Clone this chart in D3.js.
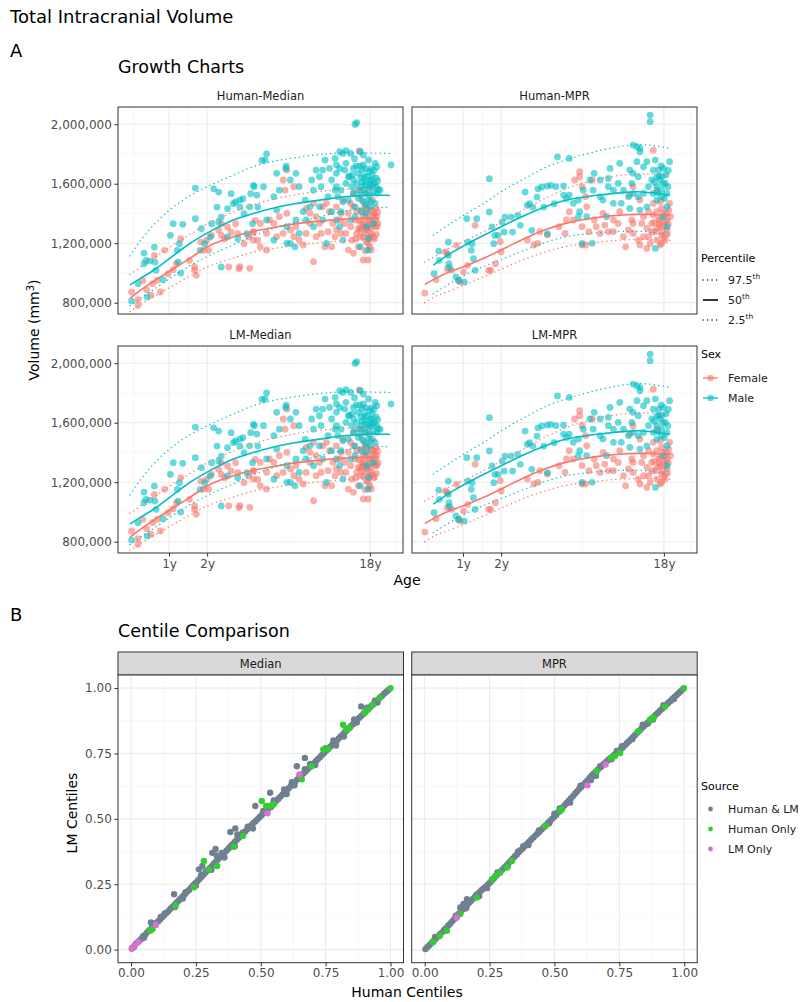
<!DOCTYPE html>
<html><head><meta charset="utf-8">
<script src="https://cdn.jsdelivr.net/npm/d3@7"></script>
<style>body{margin:0;background:#fff;} text{font-family:"DejaVu Sans",sans-serif;}</style>
</head><body><script>
// ---------- DATA ----------
// Panel A: age in years (postnatal), volume in thousands of mm^3
const sexes = ["Female", "Male"];
const percentiles = ["97.5th", "50th", "2.5th"];
const yTicksA = [800, 1200, 1600, 2000];
const xTickAges = [1, 2, 18];
const xTickLabels = ["1y", "2y", "18y"];

const medianFemale = [[0.37,872],[0.46,820],[0.46,782],[0.53,950],[0.59,888],[0.66,850],[0.69,928],[0.77,950],[0.83,872],[0.72,1118],[0.91,1152],[0.98,995],[1.09,1022],[1.16,1062],[1.26,1230],[1.48,1085],[1.62,1018],[1.67,984],[1.62,1040],[1.8,1208],[1.88,1152],[1.98,1219],[2.05,1152],[2.15,1253],[2.4,1287],[2.5,1253],[2.63,1230],[2.8,1040],[3.25,1029],[2.9,1275],[3.2,1264],[3.5,1197],[3.75,1242],[4.0,1275],[4.1,1354],[4.25,1219],[2.75,1309],[3.1,1331],[2.5,1331],
[5.0,1356],[5.3,1333],[5.7,1378],[6.3,1401],[6.15,1557],[6.0,1625],[6.3,1692],[6.9,1580],[4.8,1154],[5.5,1244],[6.0,1266],[6.6,1289],[6.9,1244],[7.1,1311],[7.4,1221],[7.8,1188],[8.1,1266],[8.1,1434],[8.5,1401],[8.9,1468],[9.2,1378],[9.6,1333],[8.9,1076],[9.8,1266],[10.3,1176],[10.9,1412],[11.4,1333],[11.9,1289],[11.2,1176],[12.6,1401],[12.9,1490],[13.2,1333],[13.4,1266],[14.2,1311],[14.4,1221],[14.7,1445],[15.0,1356],[15.3,1266],[15.6,1176],[15.8,1820],[16.0,1423],[16.3,1333],[16.6,1244],[16.6,1087],[17.0,1378],[17.3,1289],[17.6,1199],[18.0,1356],[18.3,1266],[18.8,1412],[19.2,1311],[19.6,1378],[19.4,1434],[17.3,1535],[16.0,1557],[14.7,1535],[13.8,1401],[12.4,1356],[11.9,1445],[10.5,1468],[10.0,1445],[13.8,1154],[14.7,1132],[16.0,1244],[17.6,1356],[17.0,1445],[18.6,1490],[15.3,1412],[14.2,1468],[12.6,1266],[11.7,1244],[10.7,1277],[9.2,1244],[8.5,1333],[4.8,1266],[4.4,1333],[4.0,1277],[4.4,1176],[3.3,1042],[3.8,1031],[4.0,1221],[18.0,1176],[17.3,1412],[16.3,1490],[18.8,1244],[18.3,1154],[16.6,1311],[15.6,1300],[19.6,1311],[17.6,1087],[17.8,1320],[18.5,1380],[16.9,1270],[19.0,1230],[18.2,1300],[17.4,1440],[16.5,1380],[19.3,1350],
[16.8,1330],[17.5,1300],[18.1,1250],[18.6,1330],[19.0,1390],[17.2,1210],[16.2,1300],[15.8,1350],[19.5,1260],[18.4,1420],[17.9,1230],[16.0,1290],[19.9,1330],[19.8,1410],[17.0,1150],[15.1,1230]];

const medianMale = [[0.37,811],[0.55,1134],[0.58,1085],[0.55,1062],[0.64,1080],[0.72,1174],[0.73,1073],[0.75,1018],[0.46,928],[0.60,838],[0.88,955],[1.03,1253],[1.09,1331],[1.31,1327],[1.23,1197],[1.18,1152],[1.2,1073],[1.26,999],[1.64,1571],[1.64,1365],[1.82,1298],[1.78,1152],[1.92,1197],[2.1,1242],[2.22,1566],[2.4,1544],[2.34,1443],[2.15,1331],[2.4,1342],[2.5,1376],[2.5,1040],[2.75,1432],[2.9,1533],[3.0,1466],[3.1,1477],[3.3,1443],[3.45,1499],[3.5,1398],[3.85,1533],[4.0,1589],[3.95,1331],[4.25,1443],[3.65,1264],[3.2,1230],[2.75,1242],[4.5,1757],
[4.8,1800],[4.7,1759],[5.5,1670],[6.2,1703],[6.25,1719],[6.6,1625],[7.1,1670],[7.4,1580],[5.3,1513],[5.7,1557],[4.6,1580],[4.05,1580],[4.2,1524],[3.8,1445],[3.3,1490],[4.8,1356],[5.3,1221],[6.3,1311],[6.6,1199],[7.0,1176],[5.5,1423],[7.8,1412],[8.1,1356],[8.5,1445],[8.9,1557],[8.7,1625],[9.2,1692],[9.6,1647],[9.8,1580],[10.7,1513],[11.2,1625],[11.9,1670],[11.2,1412],[11.9,1356],[10.3,1759],[11.7,1770],[12.4,1815],[13.4,1822],[12.9,1804],[14.2,1804],[15.0,1999],[15.3,2010],[16.6,1793],[16.0,1815],[19.2,1737],[23.3,1726],[12.4,1703],[13.2,1692],[13.8,1647],[14.7,1703],[15.6,1670],[16.3,1692],[17.3,1647],[17.8,1681],[18.3,1625],[17.3,1591],[16.3,1580],[15.3,1602],[14.4,1580],[13.4,1602],[12.6,1557],[11.9,1580],[14.7,1535],[16.0,1524],[17.0,1535],[18.0,1524],[18.8,1546],[19.6,1535],[17.6,1490],[16.6,1479],[15.6,1501],[13.8,1490],[12.9,1479],[12.1,1513],[18.0,1445],[17.3,1401],[16.3,1412],[15.0,1378],[14.2,1356],[18.8,1333],[17.3,1311],[17.6,1233],[17.6,1154],[16.0,1176],[12.9,1221],[10.5,1199],[12.4,1311],[9.6,1445],[10.0,1356],[8.9,1311],[7.1,1356],[7.4,1266],[6.3,1199],[8.0,1490],[14.7,1625],[19.2,1468],[16.6,1726],[15.9,1719],[10.0,1692],[10.9,1703],[11.9,1726],[13.4,1737],[14.9,1768],[11.7,1557],[12.6,1412],[15.0,1445],[18.0,1580],[17.0,1610],[18.5,1660],[19.0,1600],[17.8,1570],[16.8,1650],[18.3,1700],[19.5,1580],[20.0,1560],[19.6,1714],
[14.0,1650],[15.5,1560],[16.1,1640],[17.1,1700],[18.1,1620],[18.9,1690],[19.4,1640],[16.7,1560],[15.2,1720],[14.5,1660],[17.7,1760],[18.6,1590],[16.4,1610],[19.8,1620],[20.4,1557],[18.2,1480],[17.0,1460]];

const mprFemale = [[0.36,865],[0.52,955],[0.67,1141],[0.7,1130],[0.7,1029],[0.78,1018],[0.91,950],[0.94,939],[0.87,1186],[1.01,1006],[1.1,1051],[1.27,1320],[1.62,1018],[1.68,1018],[2.0,1141],[1.82,1062],
[1.97,1210],[3.0,1221],[3.3,1188],[3.5,1199],[3.6,1277],[4.0,1255],[4.7,1311],[5.1,1266],[5.2,1356],[5.4,1412],[5.7,1356],[5.8,1625],[6.2,1681],[6.2,1647],[6.4,1580],[6.7,1513],[6.8,1445],[6.4,1311],[6.4,1188],[6.7,1188],[7.0,1277],[7.3,1625],[7.5,1356],[7.7,1311],[8.1,1266],[8.4,1401],[8.6,1322],[9.0,1277],[9.6,1356],[10.2,1333],[10.4,1412],[11.2,1176],[11.6,1289],[12.1,1356],[12.3,1266],[13.1,1221],[13.4,1188],[13.7,1333],[14.0,1378],[14.6,1300],[14.9,1244],[15.2,1199],[15.5,1333],[15.8,1389],[16.2,1277],[16.5,1221],[16.9,1356],[17.2,1311],[17.5,1255],[17.9,1401],[18.3,1345],[18.7,1289],[19.1,1423],[19.3,1468],[19.5,1378],[15.8,1826],[16.5,1557],[17.2,1479],[15.8,1468],[14.9,1412],[13.4,1490],[12.3,1580],[11.8,1524],[9.6,1277],[10.9,1244],[18.3,1221],[17.2,1188],[14.6,1165],[14.0,1244],[12.3,1333],[18.7,1356],[17.5,1434],[16.5,1412],[15.5,1277],[17.9,1322],
[17.0,1330],[17.7,1280],[18.5,1400],[16.6,1300],[18.0,1240],[17.3,1370],[19.0,1330],[18.8,1260],[16.0,1340],[17.5,1200]];

const mprMale = [[0.49,995],[0.56,1147],[0.57,1085],[0.72,1208],[0.72,1118],[0.73,1062],[0.74,1035],[0.86,973],[0.91,950],[1.03,939],[1.1,1208],[1.2,1197],[1.18,1152],[1.23,1096],[1.27,1018],[1.08,1365],[1.31,1365],[1.64,1634],[1.64,1410],[1.72,1309],[1.77,1197],[1.8,1253],[1.9,1253],[2.03,1342],[2.1,1275],[2.13,1376],[2.35,1376],[2.4,1275],[2.6,1387],[2.7,1320],[2.9,1544],[3.0,1455],[3.1,1466],[3.2,1287],[3.25,1443],[3.45,1510],[3.5,1566],[3.7,1578],[3.8,1443],[4.0,1264],[4.2,1589],[4.4,1466],
[4.6,1780],[5.4,1770],[4.0,1584],[4.5,1580],[5.0,1584],[5.2,1501],[5.4,1524],[5.7,1468],[6.1,1490],[6.2,1412],[6.5,1557],[7.1,1625],[7.4,1557],[7.5,1670],[8.1,1625],[9.0,1636],[9.2,1703],[9.6,1557],[10.4,1737],[10.2,1602],[10.6,1468],[11.8,1692],[12.3,1860],[12.9,1849],[13.4,1838],[13.4,1815],[12.9,1748],[12.1,1602],[12.3,1670],[13.1,1647],[14.0,1714],[14.6,1748],[15.2,2062],[15.2,2017],[15.8,1692],[16.2,1759],[16.5,1647],[16.9,1692],[17.2,1625],[17.9,1703],[18.3,1602],[19.3,1748],[18.7,1535],[17.5,1557],[16.5,1580],[15.5,1625],[14.9,1580],[14.0,1535],[13.1,1513],[12.3,1535],[11.6,1513],[10.9,1557],[15.8,1535],[16.5,1490],[17.5,1513],[18.7,1445],[17.9,1378],[18.7,1311],[16.2,1165],[13.4,1423],[14.6,1445],[11.8,1434],[9.6,1468],[8.4,1490],[8.8,1378],[7.3,1199],[6.4,1199],[6.8,1378],[6.1,1378],[8.1,1513],[9.0,1580],[5.0,1524],
[17.0,1650],[17.8,1600],[18.5,1660],[16.0,1610],[17.4,1720],[18.9,1580],[16.7,1540],[18.1,1500],[17.6,1650],[19.0,1690]];

// Percentile curves (age grid + values, thousands mm^3)
const medCurveAgesM = [0.35,0.5,0.75,1,1.5,2,3,4,5,7,9,11,13,15,17,19,21,23];
const medM975 = [1115,1220,1340,1420,1520,1580,1658,1715,1745,1775,1793,1803,1808,1809,1808,1806,1805,1804];
const medM50  = [920,965,1030,1095,1200,1268,1356,1400,1430,1465,1485,1500,1512,1518,1523,1524,1523,1522];
const medM025 = [780,830,900,960,1050,1110,1190,1250,1290,1340,1370,1395,1415,1428,1436,1439,1440,1440];
const medCurveAgesF = [0.35,0.5,0.75,1,1.5,2,3,4,5,7,9,11,13,15,17,19,20];
const medF975 = [990,1040,1110,1170,1260,1330,1410,1460,1490,1525,1545,1555,1562,1565,1566,1566,1565];
const medF50  = [830,885,955,1010,1100,1176,1244,1280,1300,1330,1345,1355,1362,1365,1367,1367,1367];
const medF025 = [740,790,850,900,980,1040,1100,1140,1160,1185,1200,1210,1215,1218,1220,1220,1220];

const mprCurveAgesM = [0.48,0.75,1,1.5,2,3,4,5,7,9,11,13,15,17,19.3];
const mprM975 = [1255,1330,1385,1470,1546,1645,1715,1755,1805,1836,1855,1864,1860,1850,1838];
const mprM50  = [1053,1130,1180,1255,1311,1395,1450,1485,1515,1530,1542,1546,1541,1533,1524];
const mprM025 = [860,930,980,1045,1090,1160,1210,1240,1265,1275,1280,1280,1275,1265,1255];
const mprCurveAgesF = [0.36,0.5,0.75,1,1.5,2,3,4,5,7,9,11,13,15,17,19.5];
const mprF975 = [1073,1110,1170,1210,1280,1340,1440,1510,1560,1615,1645,1660,1665,1665,1662,1660];
const mprF50  = [922,960,1010,1040,1100,1155,1240,1295,1330,1365,1382,1390,1394,1393,1390,1389];
const mprF025 = [800,840,880,915,975,1025,1100,1145,1175,1200,1215,1222,1225,1225,1222,1220];

// Panel B: human centile vs LM centile
const sources = ["Human & LM", "Human Only", "LM Only"];
const centileTicks = [0, 0.25, 0.5, 0.75, 1];
const medGray = [[0.004,0.006],[0.012,0.01],[0.02,0.024],[0.03,0.032],[0.038,0.04],[0.046,0.05],[0.055,0.057],[0.062,0.066],[0.07,0.074],[0.077,0.104],[0.08,0.085],[0.088,0.093],[0.096,0.1],[0.104,0.108],[0.112,0.115],[0.12,0.124],[0.128,0.131],[0.136,0.14],[0.144,0.147],[0.152,0.156],[0.16,0.163],[0.166,0.212],[0.168,0.172],[0.176,0.18],[0.184,0.188],[0.192,0.197],[0.2,0.204],[0.208,0.212],[0.216,0.221],[0.224,0.228],[0.232,0.238],[0.24,0.246],[0.248,0.254],[0.256,0.262],[0.262,0.307],[0.264,0.27],[0.272,0.279],[0.275,0.32],[0.28,0.287],[0.288,0.296],[0.296,0.304],[0.304,0.312],[0.313,0.37],[0.312,0.32],[0.32,0.329],[0.326,0.385],[0.328,0.337],[0.336,0.346],[0.344,0.354],[0.352,0.362],[0.36,0.37],[0.368,0.378],[0.376,0.387],[0.383,0.45],[0.384,0.395],[0.392,0.403],[0.4,0.412],[0.402,0.463],[0.408,0.42],[0.416,0.428],[0.424,0.436],[0.432,0.444],[0.44,0.452],[0.448,0.46],[0.456,0.468],[0.464,0.476],[0.472,0.484],[0.479,0.549],[0.48,0.491],[0.488,0.499],[0.496,0.507],[0.504,0.515],[0.512,0.523],[0.52,0.53],[0.528,0.538],[0.536,0.6],[0.536,0.546],[0.544,0.553],[0.552,0.561],[0.56,0.569],[0.568,0.577],[0.576,0.585],[0.584,0.593],[0.592,0.601],[0.6,0.609],[0.608,0.617],[0.616,0.626],[0.624,0.633],[0.632,0.641],[0.639,0.701],[0.64,0.65],[0.648,0.657],[0.656,0.665],[0.664,0.673],[0.67,0.733],[0.672,0.681],[0.68,0.689],[0.688,0.697],[0.696,0.705],[0.704,0.712],[0.712,0.72],[0.72,0.728],[0.728,0.736],[0.736,0.744],[0.744,0.752],[0.752,0.76],[0.76,0.768],[0.768,0.776],[0.776,0.784],[0.784,0.792],[0.792,0.797],[0.8,0.807],[0.808,0.815],[0.816,0.823],[0.824,0.831],[0.832,0.839],[0.84,0.847],[0.848,0.855],[0.856,0.863],[0.864,0.871],[0.872,0.879],[0.88,0.887],[0.887,0.93],[0.888,0.894],[0.896,0.902],[0.904,0.91],[0.912,0.918],[0.92,0.926],[0.928,0.933],[0.936,0.941],[0.944,0.949],[0.952,0.956],[0.96,0.964],[0.968,0.971],[0.976,0.979],[0.984,0.986],[0.992,0.993],
[0.05,0.045],[0.09,0.1],[0.13,0.138],[0.17,0.163],[0.21,0.22],[0.25,0.245],[0.27,0.285],[0.31,0.305],[0.35,0.37],[0.39,0.4],[0.43,0.447],[0.47,0.463],[0.51,0.53],[0.55,0.57],[0.59,0.612],[0.63,0.628],[0.67,0.69],[0.71,0.706],[0.75,0.77],[0.79,0.78],[0.83,0.845],[0.87,0.868],[0.91,0.925],[0.95,0.945],[0.2,0.195],[0.36,0.352],[0.45,0.47],[0.62,0.64],[0.78,0.8],[0.86,0.88],[0.6,0.595],[0.4,0.395],[0.33,0.36],[0.41,0.44],[0.29,0.3],[0.115,0.125],[0.54,0.545],[0.69,0.71],[0.82,0.815],[0.94,0.952]];
const medHumanOnly = [[0.074,0.072],[0.083,0.079],[0.172,0.168],[0.243,0.238],[0.281,0.339],[0.3,0.307],[0.332,0.32],[0.396,0.393],[0.432,0.435],[0.504,0.568],[0.521,0.549],[0.536,0.549],[0.549,0.555],[0.658,0.651],[0.696,0.701],[0.741,0.765],[0.76,0.767],[0.817,0.86],[0.83,0.841],[0.843,0.848],[0.9,0.905],[0.913,0.917],[0.932,0.936],[0.958,0.962],[1.0,1.0]];
const medLMOnly = [[0.003,0.003],[0.013,0.015],[0.028,0.028],[0.096,0.094],[0.526,0.521],[0.649,0.67]];

const mprGray = [[0.003,0.002],[0.011,0.01],[0.019,0.018],[0.027,0.026],[0.035,0.034],[0.043,0.043],[0.051,0.05],[0.059,0.059],[0.067,0.066],[0.075,0.075],[0.083,0.083],[0.091,0.092],[0.099,0.1],[0.107,0.109],[0.115,0.118],[0.123,0.127],[0.131,0.136],[0.137,0.161],[0.139,0.144],[0.147,0.154],[0.15,0.175],[0.155,0.162],[0.163,0.193],[0.163,0.17],[0.171,0.179],[0.179,0.187],[0.187,0.195],[0.195,0.203],[0.203,0.211],[0.211,0.219],[0.219,0.227],[0.227,0.234],[0.235,0.241],[0.243,0.248],[0.251,0.256],[0.259,0.264],[0.267,0.273],[0.275,0.282],[0.283,0.29],[0.291,0.298],[0.299,0.306],[0.307,0.314],[0.315,0.322],[0.323,0.33],[0.331,0.339],[0.339,0.348],[0.347,0.356],[0.355,0.364],[0.363,0.373],[0.371,0.381],[0.379,0.389],[0.387,0.397],[0.395,0.405],[0.403,0.413],[0.411,0.421],[0.419,0.429],[0.427,0.437],[0.435,0.444],[0.443,0.452],[0.451,0.46],[0.459,0.468],[0.467,0.476],[0.475,0.484],[0.483,0.492],[0.491,0.5],[0.499,0.508],[0.507,0.516],[0.515,0.525],[0.523,0.534],[0.531,0.543],[0.539,0.552],[0.547,0.561],[0.555,0.569],[0.563,0.578],[0.571,0.587],[0.579,0.596],[0.587,0.605],[0.595,0.614],[0.603,0.622],[0.611,0.63],[0.619,0.638],[0.627,0.647],[0.635,0.656],[0.643,0.665],[0.65,0.663],[0.651,0.673],[0.659,0.68],[0.667,0.688],[0.676,0.701],[0.675,0.696],[0.683,0.704],[0.691,0.711],[0.699,0.718],[0.707,0.725],[0.715,0.732],[0.723,0.738],[0.731,0.745],[0.739,0.752],[0.747,0.759],[0.755,0.766],[0.763,0.773],[0.771,0.781],[0.779,0.789],[0.787,0.797],[0.795,0.805],[0.803,0.813],[0.811,0.821],[0.819,0.829],[0.827,0.837],[0.835,0.845],[0.843,0.853],[0.851,0.861],[0.859,0.868],[0.867,0.876],[0.875,0.884],[0.883,0.891],[0.891,0.899],[0.899,0.906],[0.907,0.914],[0.915,0.921],[0.923,0.929],[0.931,0.936],[0.939,0.944],[0.947,0.951],[0.955,0.959],[0.963,0.966],[0.971,0.974],[0.979,0.981],[0.987,0.988],[0.995,0.996],
[0.04,0.048],[0.08,0.076],[0.12,0.13],[0.16,0.158],[0.2,0.21],[0.24,0.235],[0.28,0.295],[0.32,0.318],[0.36,0.375],[0.4,0.4],[0.44,0.456],[0.48,0.483],[0.52,0.54],[0.56,0.562],[0.6,0.627],[0.64,0.648],[0.68,0.7],[0.72,0.728],[0.76,0.778],[0.8,0.804],[0.84,0.86],[0.88,0.88],[0.92,0.935],[0.96,0.958],[0.21,0.205],[0.38,0.395],[0.5,0.52],[0.66,0.665],[0.74,0.76],[0.86,0.865]];
const mprHumanOnly = [[0.032,0.028],[0.058,0.053],[0.086,0.072],[0.137,0.136],[0.201,0.199],[0.259,0.269],[0.272,0.282],[0.291,0.295],[0.317,0.314],[0.336,0.339],[0.464,0.473],[0.522,0.53],[0.528,0.536],[0.663,0.682],[0.717,0.733],[0.733,0.74],[0.753,0.752],[0.823,0.835],[0.868,0.879],[0.881,0.886],[0.926,0.93],[0.999,1.0]];
const mprLMOnly = [[0.124,0.123],[0.627,0.628],[0.697,0.708]];

// ---------- DRAWING ----------
const FEMALE = "#F8766D", MALE = "#00BFC4";
const SRC_COL = ["#708090", "#32CD32", "#DA70D6"];
const svg = d3.select("body").append("svg").attr("width", 800).attr("height", 1002);
const fmt = d3.format(",");

svg.append("text").attr("x", 10).attr("y", 23).attr("font-size", 18).text("Total Intracranial Volume");
svg.append("text").attr("x", 10).attr("y", 57).attr("font-size", 18).text("A");
svg.append("text").attr("x", 118).attr("y", 73).attr("font-size", 17.5).text("Growth Charts");

const PW = 285, PH = 207;
const xLog = d3.scaleLog().domain([354, 10121]).range([0, PW]);
const xa = a => xLog(a * 365.25 + 280);
const yA = d3.scaleLinear().domain([724, 2116]).range([PH, 0]);
const minorAges = [0.4, 1.45, 6.4, 25];
const minorY = [1000, 1400, 1800];

const medCurves = {
  Female: {ages: medCurveAgesF, p: [medF975, medF50, medF025]},
  Male: {ages: medCurveAgesM, p: [medM975, medM50, medM025]}
};
const mprCurves = {
  Female: {ages: mprCurveAgesF, p: [mprF975, mprF50, mprF025]},
  Male: {ages: mprCurveAgesM, p: [mprM975, mprM50, mprM025]}
};
const panelsA = [
  {name: "Human-Median", c: 0, r: 0, pts: {Female: medianFemale, Male: medianMale}, cur: medCurves},
  {name: "Human-MPR", c: 1, r: 0, pts: {Female: mprFemale, Male: mprMale}, cur: mprCurves},
  {name: "LM-Median", c: 0, r: 1, pts: {Female: medianFemale, Male: medianMale}, cur: medCurves},
  {name: "LM-MPR", c: 1, r: 1, pts: {Female: mprFemale, Male: mprMale}, cur: mprCurves}
];
const colX = [118, 412], rowY = [107, 346];
const defs = svg.append("defs");
defs.append("clipPath").attr("id", "clipA").append("rect").attr("width", PW).attr("height", PH);

const lineGen = d3.line().curve(d3.curveMonotoneX).x(d => xa(d[0])).y(d => yA(d[1]));

function styleAxis(ax) {
  ax.select(".domain").remove();
  ax.selectAll("line").attr("stroke", "#333");
  ax.selectAll("text").attr("font-size", 12).attr("fill", "#4D4D4D").attr("font-family", "DejaVu Sans");
}

panelsA.forEach(p => {
  const g = svg.append("g").attr("transform", `translate(${colX[p.c]},${rowY[p.r]})`);
  g.append("rect").attr("width", PW).attr("height", PH).attr("fill", "#fff");
  g.selectAll(".mgy").data(minorY).join("line").attr("x1", 0).attr("x2", PW)
    .attr("y1", d => yA(d)).attr("y2", d => yA(d)).attr("stroke", "#F2F2F2").attr("stroke-width", 0.6);
  g.selectAll(".mgx").data(minorAges).join("line").attr("y1", 0).attr("y2", PH)
    .attr("x1", d => xa(d)).attr("x2", d => xa(d)).attr("stroke", "#F2F2F2").attr("stroke-width", 0.6)
    .attr("clip-path", "url(#clipA)");
  g.selectAll(".Mgy").data(yTicksA).join("line").attr("x1", 0).attr("x2", PW)
    .attr("y1", d => yA(d)).attr("y2", d => yA(d)).attr("stroke", "#EBEBEB").attr("stroke-width", 1.1);
  g.selectAll(".Mgx").data(xTickAges).join("line").attr("y1", 0).attr("y2", PH)
    .attr("x1", d => xa(d)).attr("x2", d => xa(d)).attr("stroke", "#EBEBEB").attr("stroke-width", 1.1);

  const inner = g.append("g").attr("clip-path", "url(#clipA)");
  sexes.forEach(s => {
    inner.append("g").selectAll("circle").data(p.pts[s]).join("circle")
      .attr("cx", d => xa(d[0])).attr("cy", d => yA(d[1])).attr("r", 3.4)
      .attr("fill", s === "Female" ? FEMALE : MALE).attr("fill-opacity", 0.6);
  });
  sexes.forEach(s => {
    const cv = p.cur[s];
    cv.p.forEach((vals, i) => {
      inner.append("path").datum(d3.zip(cv.ages, vals)).attr("d", lineGen)
        .attr("fill", "none").attr("stroke", s === "Female" ? FEMALE : MALE)
        .attr("stroke-width", i === 1 ? 1.6 : 1.4)
        .attr("stroke-linecap", i === 1 ? "butt" : "round")
        .attr("stroke-dasharray", i === 1 ? null : "0.1,4.4");
    });
  });
  g.append("rect").attr("width", PW).attr("height", PH).attr("fill", "none").attr("stroke", "#333").attr("stroke-width", 1);
  g.append("text").attr("x", PW / 2).attr("y", -7).attr("text-anchor", "middle")
    .attr("font-size", 11.5).attr("fill", "#1A1A1A").text(p.name);

  if (p.c === 0) {
    const ax = g.append("g").call(d3.axisLeft(yA).tickValues(yTicksA).tickFormat(v => fmt(v * 1000)).tickSize(3.7).tickPadding(2.5));
    styleAxis(ax);
  }
  if (p.r === 1) {
    const xt = d3.scaleOrdinal().domain(xTickAges).range(xTickAges.map(xa));
    const ax2 = g.append("g").attr("transform", `translate(0,${PH})`)
      .call(d3.axisBottom(xt).tickValues(xTickAges).tickFormat((d, i) => xTickLabels[i]).tickSize(3.7).tickPadding(2.5));
    styleAxis(ax2);
  }
});

// axis titles A
svg.append("text").attr("x", 407).attr("y", 585).attr("text-anchor", "middle").attr("font-size", 14).text("Age");
const vt = svg.append("text").attr("transform", "translate(39,330) rotate(-90)").attr("text-anchor", "middle").attr("font-size", 14);
vt.append("tspan").text("Volume (mm");
vt.append("tspan").attr("font-size", 10).attr("dy", -5).text("3");
vt.append("tspan").attr("dy", 5).text(")");

// Percentile legend
const lg = svg.append("g").attr("transform", "translate(701,0)");
lg.append("text").attr("x", 0).attr("y", 262).attr("font-size", 11).text("Percentile");
percentiles.forEach((pc, i) => {
  const yy = [280, 300, 320][i];
  lg.append("line").attr("x1", 2).attr("x2", 17).attr("y1", yy).attr("y2", yy)
    .attr("stroke", "#000").attr("stroke-width", i === 1 ? 1.6 : 1.3)
    .attr("stroke-linecap", i === 1 ? "butt" : "round").attr("stroke-dasharray", i === 1 ? null : "0.1,4.4");
  const t = lg.append("text").attr("x", 27).attr("y", yy + 4).attr("font-size", 11).attr("fill", "#1A1A1A");
  t.append("tspan").text(pc.replace("th", ""));
  t.append("tspan").attr("font-size", 7.5).attr("dy", -5).text("th");
});
// Sex legend
lg.append("text").attr("x", 0).attr("y", 358).attr("font-size", 11).text("Sex");
sexes.forEach((s, i) => {
  const yy = [378, 398][i];
  const col = s === "Female" ? FEMALE : MALE;
  lg.append("line").attr("x1", 2).attr("x2", 17).attr("y1", yy).attr("y2", yy).attr("stroke", col).attr("stroke-width", 1.6).attr("stroke-opacity", 0.8);
  lg.append("circle").attr("cx", 9.5).attr("cy", yy).attr("r", 3.2).attr("fill", col).attr("fill-opacity", 0.6);
  lg.append("text").attr("x", 27).attr("y", yy + 4).attr("font-size", 11).attr("fill", "#1A1A1A").text(s);
});

// ---------- Panel B ----------
svg.append("text").attr("x", 10).attr("y", 621).attr("font-size", 18).text("B");
svg.append("text").attr("x", 118).attr("y", 637).attr("font-size", 17.5).text("Centile Comparison");
const PWB = 285.5, PHB = 287.7;
const xb = d3.scaleLinear().domain([-0.05, 1.05]).range([0, PWB]);
const yb = d3.scaleLinear().domain([-0.05, 1.05]).range([PHB, 0]);
const minorC = [0.125, 0.375, 0.625, 0.875];
const panelsB = [
  {name: "Median", c: 0, sets: [medGray, medHumanOnly, medLMOnly]},
  {name: "MPR", c: 1, sets: [mprGray, mprHumanOnly, mprLMOnly]}
];
const colXB = [118, 411.7];
panelsB.forEach(p => {
  const g = svg.append("g").attr("transform", `translate(${colXB[p.c]},675)`);
  g.append("rect").attr("y", -23).attr("width", PWB).attr("height", 23).attr("fill", "#D9D9D9").attr("stroke", "#333").attr("stroke-width", 1);
  g.append("text").attr("x", PWB / 2).attr("y", -7.5).attr("text-anchor", "middle").attr("font-size", 11.5).attr("fill", "#1A1A1A").text(p.name);
  g.append("rect").attr("width", PWB).attr("height", PHB).attr("fill", "#fff");
  minorC.forEach(v => {
    g.append("line").attr("x1", 0).attr("x2", PWB).attr("y1", yb(v)).attr("y2", yb(v)).attr("stroke", "#F2F2F2").attr("stroke-width", 0.6);
    g.append("line").attr("y1", 0).attr("y2", PHB).attr("x1", xb(v)).attr("x2", xb(v)).attr("stroke", "#F2F2F2").attr("stroke-width", 0.6);
  });
  centileTicks.forEach(v => {
    g.append("line").attr("x1", 0).attr("x2", PWB).attr("y1", yb(v)).attr("y2", yb(v)).attr("stroke", "#EBEBEB").attr("stroke-width", 1.1);
    g.append("line").attr("y1", 0).attr("y2", PHB).attr("x1", xb(v)).attr("x2", xb(v)).attr("stroke", "#EBEBEB").attr("stroke-width", 1.1);
  });
  p.sets.forEach((set, i) => {
    g.append("g").selectAll("circle").data(set).join("circle")
      .attr("cx", d => xb(d[0])).attr("cy", d => yb(d[1])).attr("r", 3.2).attr("fill", SRC_COL[i]);
  });
  g.append("rect").attr("width", PWB).attr("height", PHB).attr("fill", "none").attr("stroke", "#333").attr("stroke-width", 1);
  const axb = g.append("g").attr("transform", `translate(0,${PHB})`)
    .call(d3.axisBottom(xb).tickValues(centileTicks).tickFormat(d3.format(".2f")).tickSize(3.7).tickPadding(2.5));
  styleAxis(axb);
  if (p.c === 0) {
    const ayb = g.append("g").call(d3.axisLeft(yb).tickValues(centileTicks).tickFormat(d3.format(".2f")).tickSize(3.7).tickPadding(2.5));
    styleAxis(ayb);
  }
});
svg.append("text").attr("x", 407).attr("y", 997).attr("text-anchor", "middle").attr("font-size", 14).text("Human Centiles");
svg.append("text").attr("transform", "translate(77,813) rotate(-90)").attr("text-anchor", "middle").attr("font-size", 14).text("LM Centiles");

const sl = svg.append("g").attr("transform", "translate(701,0)");
sl.append("text").attr("x", 0).attr("y", 790).attr("font-size", 11).text("Source");
sources.forEach((s, i) => {
  const yy = [809, 829, 849][i];
  sl.append("circle").attr("cx", 9.5).attr("cy", yy).attr("r", 2.4).attr("fill", SRC_COL[i]);
  sl.append("text").attr("x", 27).attr("y", yy + 4).attr("font-size", 11).attr("fill", "#1A1A1A").text(s);
});
</script></body></html>
